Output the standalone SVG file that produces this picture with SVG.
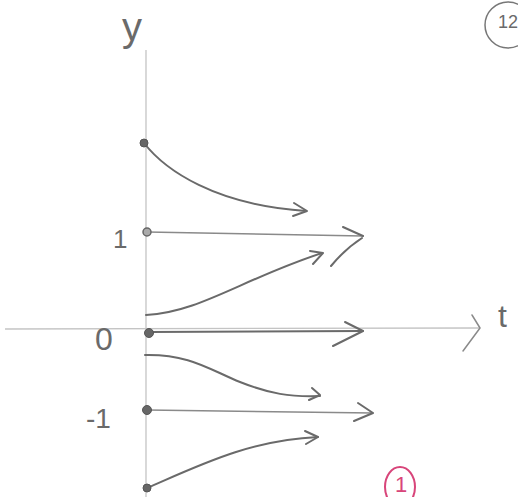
<svg xmlns="http://www.w3.org/2000/svg" width="518" height="497" viewBox="0 0 518 497">
<style>
.axis{stroke:#c4c4c4;stroke-width:1.3;fill:none}
.pen{stroke:#6a6a6a;stroke-width:2;fill:none;stroke-linecap:round;stroke-linejoin:round}
.thin{stroke:#8a8a8a;stroke-width:1.5;fill:none;stroke-linecap:round;stroke-linejoin:round}
.dot{fill:#666;stroke:#555;stroke-width:1}
.lbl{font-family:"Liberation Sans",Arial,sans-serif;fill:#6a6a6a;font-weight:normal}
.red{stroke:#d8457a;stroke-width:2;fill:none}
</style>
<rect width="518" height="497" fill="#ffffff"/>
<g id="axes">
<path class="axis" d="M146,50 L146,497"/>
<path class="axis" d="M5,329 L479,328"/>
<path class="thin" d="M472,315 L480,328 L463,351"/>
<text class="lbl" x="122" y="41" font-size="40">y</text>
<text class="lbl" x="498" y="327" font-size="32">t</text>
</g>
<g id="labels">
<text class="lbl" x="113" y="248" font-size="26">1</text>
<text class="lbl" x="104" y="350" font-size="32" text-anchor="middle">0</text>
<text class="lbl" x="86" y="428" font-size="28">-1</text>
</g>
<g id="connectors">
<path class="pen" d="M144,143 C165,170 215,205 306,211"/>
<path class="pen" d="M294,203 L307,211 L293,216"/>
<path class="thin" d="M147,232 L363,236"/>
<path class="pen" d="M343,227 L363,236 M331,266 Q345,249 362,238"/>
<path class="pen" d="M146,315 C200,312 240,280 322,253"/>
<path class="pen" d="M310,251 L323,253 L313,264"/>
<path class="pen" d="M149,332 L363,331"/>
<path class="pen" d="M345,322 L363,331 L333,346"/>
<path class="pen" d="M145,355 C190,354 210,370 240,382 S290,397 320,396"/>
<path class="pen" d="M312,388 L320,395 L309,400"/>
<path class="thin" d="M147,410 L373,413"/>
<path class="pen" d="M358,403 L373,413 L354,421"/>
<path class="pen" d="M147,488 C200,465 250,440 318,437"/>
<path class="pen" d="M305,431 L318,437 L306,444"/>
</g>
<g id="points">
<circle class="dot" cx="144" cy="143" r="4"/>
<circle cx="147" cy="232" r="4" fill="#aaa" stroke="#666" stroke-width="1.5"/>
<circle class="dot" cx="149" cy="333" r="4.5"/>
<circle class="dot" cx="147" cy="410" r="4.5"/>
<circle class="dot" cx="147" cy="488" r="4"/>
</g>
<g id="problem-number">
<circle cx="508" cy="25" r="23" fill="none" stroke="#777" stroke-width="1.5"/>
<text class="lbl" x="498" y="28" font-size="18">12</text>
</g>
<g id="score">
<ellipse class="red" cx="400" cy="487" rx="15" ry="20"/>
<text x="401" y="492" font-size="22" text-anchor="middle" font-family="Liberation Sans, Arial, sans-serif" fill="#d8457a">1</text>
</g>
</svg>
